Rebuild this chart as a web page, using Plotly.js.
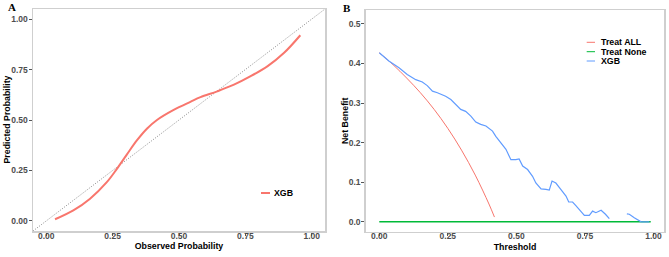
<!DOCTYPE html>
<html><head><meta charset="utf-8">
<script src="https://cdn.plot.ly/plotly-3.0.1.min.js"></script>
<style>html,body{margin:0;padding:0;background:#fff}#chart{width:669px;height:257px}</style>
</head><body><div id="chart"></div>
<script>
// Panel A: calibration curve
const calObserved = [0.033,0.102,0.165,0.228,0.266,0.304,0.342,0.380,0.417,0.48,0.543,0.581,0.644,0.707,0.770,0.834,0.896,0.957];
const calPredicted = [0.008,0.052,0.11,0.192,0.258,0.33,0.40,0.458,0.50,0.55,0.59,0.613,0.642,0.675,0.717,0.767,0.833,0.92];
const diagRef = [-0.05,1.05];

// Panel B: decision curve
const thrAll = [0,0.05,0.10,0.15,0.20,0.25,0.30,0.35,0.40,0.42];
const nbAll = [0.427,0.397,0.363,0.326,0.284,0.236,0.181,0.118,0.045,0.012];
const thrNone = [0,0.99];
const nbNone = [0,0];
const thrXgb = [0,0.035,0.072,0.102,0.133,0.157,0.175,0.194,0.212,0.242,0.261,0.279,0.297,0.315,0.334,0.352,0.370,0.389,0.413,0.425,0.443,0.462,0.480,0.498,0.510,0.523,0.541,0.559,0.571,0.590,0.608,0.620,0.630,0.644,0.662,0.681,0.691,0.705,0.717,0.736,0.748,0.766,0.778,0.790,0.809,0.825,0.839,0.87,0.903,0.912,0.930,0.943,0.955,0.985];
const nbXgb = [0.427,0.406,0.389,0.372,0.359,0.353,0.344,0.330,0.326,0.317,0.309,0.296,0.284,0.279,0.267,0.252,0.246,0.242,0.229,0.216,0.199,0.183,0.157,0.157,0.159,0.141,0.132,0.115,0.098,0.083,0.082,0.080,0.103,0.098,0.082,0.065,0.050,0.050,0.041,0.025,0.016,0.016,0.027,0.023,0.029,0.019,0.008,null,0.020,0.019,0.010,0.004,0.0,0.0];

const ticksA = [0,0.25,0.5,0.75,1];
const tickTextA = ['0.00','0.25','0.50','0.75','1.00'];
const ticksBy = [0,0.1,0.2,0.3,0.4,0.5];
const tickTextBy = ['0.0','0.1','0.2','0.3','0.4','0.5'];

const red = '#F8766D', green = '#00BA38', blue = '#619CFF';
const tickFont = {family:'Liberation Sans, Arial, sans-serif', size:8.5, color:'#4d4d4d', weight:'bold'};
const titleFont = {family:'Liberation Sans, Arial, sans-serif', size:8.8, color:'#000', weight:'bold'};
const legFont = {family:'Liberation Sans, Arial, sans-serif', size:8.8, color:'#000', weight:'bold'};

const axBase = {showgrid:false, zeroline:false, showline:true, mirror:true, linecolor:'#cfcfcf', linewidth:1.5,
  ticks:'outside', ticklen:3, tickcolor:'#555', tickwidth:1, tickfont:tickFont, fixedrange:true};

const traces = [
  {x:diagRef, y:diagRef, xaxis:'x', yaxis:'y', mode:'lines', line:{color:'#8a8a8a', width:1, dash:'1px,1.6px'}, showlegend:false, hoverinfo:'skip'},
  {x:calObserved, y:calPredicted, xaxis:'x', yaxis:'y', mode:'lines', line:{color:red, width:2, shape:'spline', smoothing:1}, name:'XGB', showlegend:false},
  {x:thrNone, y:nbNone, xaxis:'x2', yaxis:'y2', mode:'lines', line:{color:green, width:1.5}, name:'Treat None', showlegend:false},
  {x:thrAll, y:nbAll, xaxis:'x2', yaxis:'y2', mode:'lines', line:{color:red, width:1, shape:'spline'}, name:'Treat ALL', showlegend:false},
  {x:thrXgb, y:nbXgb, xaxis:'x2', yaxis:'y2', mode:'lines', line:{color:blue, width:1.2}, name:'XGB', showlegend:false, connectgaps:false}
];

const W=669, H=257;
const px = v=>v/W, py = v=>1-v/H;

const layout = {
  width:W, height:H, margin:{l:0,r:0,t:0,b:0}, paper_bgcolor:'#fff', plot_bgcolor:'#fff', showlegend:false,
  xaxis:Object.assign({}, axBase, {domain:[px(33),px(325)], range:[-0.05,1.05], tickvals:ticksA, ticktext:tickTextA, anchor:'y',
     ticklabelstandoff:-7, title:{text:'Observed Probability', font:titleFont, standoff:2}}),
  yaxis:Object.assign({}, axBase, {domain:[py(231),py(9)], range:[-0.05,1.05], tickvals:ticksA, ticktext:tickTextA, anchor:'x',
     ticklabelstandoff:-1}),
  xaxis2:Object.assign({}, axBase, {domain:[px(365.7),px(664.3)], range:[-0.0495,1.0395], tickvals:ticksA, ticktext:tickTextA, anchor:'y2',
     ticklabelstandoff:-7, title:{text:'Threshold', font:titleFont, standoff:3}}),
  yaxis2:Object.assign({}, axBase, {domain:[py(231.7),py(10)], range:[-0.025,0.535], tickvals:ticksBy, ticktext:tickTextBy, anchor:'x2',
     ticklabelstandoff:-1}),
  annotations:[
    {text:'Predicted Probability', xref:'paper', yref:'paper', x:px(6.5), y:py(120), xanchor:'center', yanchor:'middle', textangle:-90, showarrow:false, font:titleFont},
    {text:'Net Benefit', xref:'paper', yref:'paper', x:px(345), y:py(121), xanchor:'center', yanchor:'middle', textangle:-90, showarrow:false, font:titleFont},
    {text:'<b>A</b>', xref:'paper', yref:'paper', x:px(5.5), y:py(7), xanchor:'left', yanchor:'middle', showarrow:false,
      font:{family:'Liberation Serif, Times New Roman, serif', size:11, color:'#000'}},
    {text:'<b>B</b>', xref:'paper', yref:'paper', x:px(341), y:py(7.5), xanchor:'left', yanchor:'middle', showarrow:false,
      font:{family:'Liberation Serif, Times New Roman, serif', size:11, color:'#000'}},
    {text:'XGB', xref:'paper', yref:'paper', x:px(272), y:py(193), xanchor:'left', yanchor:'middle', showarrow:false, font:legFont},
    {text:'Treat ALL', xref:'paper', yref:'paper', x:px(598.5), y:py(42.3), xanchor:'left', yanchor:'middle', showarrow:false, font:legFont},
    {text:'Treat None', xref:'paper', yref:'paper', x:px(598.5), y:py(51.7), xanchor:'left', yanchor:'middle', showarrow:false, font:legFont},
    {text:'XGB', xref:'paper', yref:'paper', x:px(598.5), y:py(61), xanchor:'left', yanchor:'middle', showarrow:false, font:legFont}
  ],
  shapes:[
    {type:'line', xref:'paper', yref:'paper', x0:px(261), x1:px(270), y0:py(193), y1:py(193), line:{color:red, width:2}},
    {type:'line', xref:'paper', yref:'paper', x0:px(586.7), x1:px(595), y0:py(42.3), y1:py(42.3), line:{color:red, width:1}},
    {type:'line', xref:'paper', yref:'paper', x0:px(586.7), x1:px(595), y0:py(51.7), y1:py(51.7), line:{color:green, width:1}},
    {type:'line', xref:'paper', yref:'paper', x0:px(586.7), x1:px(595), y0:py(61), y1:py(61), line:{color:blue, width:1}}
  ]
};

Plotly.newPlot('chart', traces, layout, {displayModeBar:false, staticPlot:true});
</script>
</body></html>
